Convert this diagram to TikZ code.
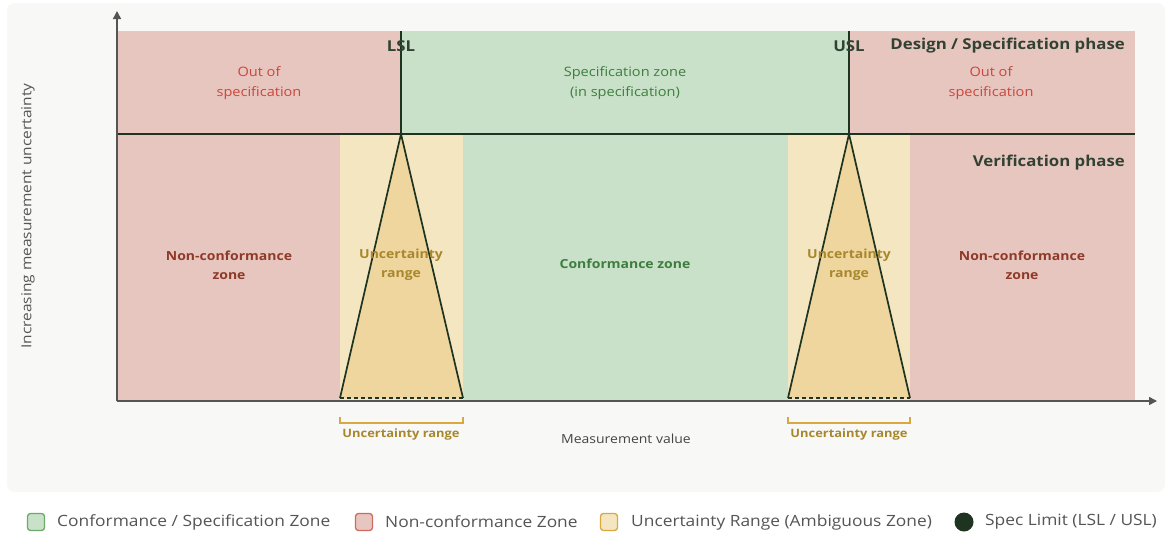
\documentclass[tikz,border=0pt]{standalone}
\usepackage{fontspec}
\setmainfont{Open Sans}[FakeStretch=1.12]
\usetikzlibrary{arrows.meta}
\definecolor{bgpanel}{HTML}{F8F8F7}
\definecolor{redfill}{HTML}{E8C6C0}
\definecolor{greenfill}{HTML}{C8E1C8}
\definecolor{yelfill}{HTML}{F5E6C2}
\definecolor{trifill}{HTML}{EFD69F}
\definecolor{darkline}{HTML}{1E3320}
\definecolor{axisgray}{HTML}{555555}
\definecolor{redtext}{HTML}{C8463C}
\definecolor{darkred}{HTML}{8E3A28}
\definecolor{greentext}{HTML}{3F7D3F}
\definecolor{goldtext}{HTML}{A8872C}
\definecolor{legtext}{HTML}{555555}
\definecolor{legred}{HTML}{D06A60}
\definecolor{leggreen}{HTML}{6BAA6B}
\definecolor{leggold}{HTML}{D9A840}
\tikzset{
  lbl/.style={align=center, font=\fontsize{13}{20}\selectfont, inner sep=0pt},
  blbl/.style={align=center, font=\fontsize{12.5}{19}\selectfont\bfseries, inner sep=0pt},
  phase/.style={font=\fontsize{15}{18}\selectfont\bfseries, text=darkline!80!gray, inner sep=0pt},
  limitline/.style={draw=darkline, line width=2.5pt},
  tri/.style={fill=trifill, draw=darkline, line width=1.7pt, line join=round},
  brk/.style={draw=leggold, line width=1.3pt},
  legbox/.style={minimum width=17pt, minimum height=17pt, rounded corners=3pt, line width=1.3pt, inner sep=0pt},
  legtxt/.style={anchor=west, font=\fontsize{15.5}{17}\selectfont, text=legtext, inner sep=0pt},
  axis/.style={draw=axisgray, line width=1.5pt, -{Triangle[length=8pt,width=8pt]}}
}
\begin{document}
\begin{tikzpicture}[x=1pt,y=-1pt]
\useasboundingbox (0,0) rectangle (1172,536);
\fill[white] (0,0) rectangle (1172,536);
\fill[bgpanel, rounded corners=8pt] (7,3) rectangle (1165,492);
% top band
\fill[redfill] (117,31) rectangle (401,134);
\fill[greenfill] (401,31) rectangle (849,134);
\fill[redfill] (849,31) rectangle (1135,134);
% bottom band
\fill[redfill] (117,134) rectangle (340,401);
\fill[yelfill] (340,134) rectangle (463,401);
\fill[greenfill] (463,134) rectangle (788,401);
\fill[yelfill] (788,134) rectangle (910,401);
\fill[redfill] (910,134) rectangle (1135,401);
% coordinates
\coordinate (lslTop) at (401,31);
\coordinate (lsl) at (401,134);
\coordinate (uslTop) at (849,31);
\coordinate (usl) at (849,134);
\coordinate (l1) at (340,398);
\coordinate (l2) at (463,398);
\coordinate (u1) at (788,398);
\coordinate (u2) at (910,398);
\coordinate (divL) at (117,134);
\coordinate (divR) at (1135,134);
\coordinate (origin) at (117,401);
\coordinate (yEnd) at (117,11);
\coordinate (xEnd) at (1157,401);
% triangles
\fill[trifill] (lsl) -- (l2) -- (l1) -- cycle;
\draw[tri] (l1) -- (lsl) -- (l2);
\draw[darkline, line width=1.6pt, dash pattern=on 4pt off 3pt] (l1) -- (l2);
\fill[trifill] (usl) -- (u2) -- (u1) -- cycle;
\draw[tri] (u1) -- (usl) -- (u2);
\draw[darkline, line width=1.6pt, dash pattern=on 4pt off 3pt] (u1) -- (u2);
% limit lines
\draw[limitline] (divL) -- (divR);
\draw[limitline] (lslTop) -- (lsl);
\draw[limitline] (uslTop) -- (usl);
% axes
\draw[axis] (origin) -- (yEnd);
\draw[axis] (origin) -- (xEnd);
% labels top
\node[phase] (lslLbl) at (401,46) {LSL};
\node[phase] (uslLbl) at (849,46) {USL};
\node[phase, anchor=east] (design) at (1125,46) {Design / Specification phase};
\node[phase, anchor=east] (verif) at (1125,163) {Verification phase};
\node[lbl, text=redtext] (oos1) at (259,83) {Out of\\specification};
\node[lbl, text=redtext] (oos2) at (991,83) {Out of\\specification};
\node[lbl, text=greentext] (spec) at (625,83) {Specification zone\\(in specification)};
% labels bottom
\node[blbl, text=darkred] (nc1) at (229,265) {Non-conformance\\zone};
\node[blbl, text=darkred] (nc2) at (1022,265) {Non-conformance\\zone};
\node[blbl, text=goldtext] (ur1) at (401,265) {Uncertainty\\range};
\node[blbl, text=goldtext] (ur2) at (849,265) {Uncertainty\\range};
\node[blbl, text=greentext] (conf) at (625,264) {Conformance zone};
% brackets
\draw[brk] (340,417) -- (340,423) -- (463,423) -- (463,417);
\draw[brk] (788,417) -- (788,423) -- (910,423) -- (910,417);
\node[blbl, text=goldtext, font=\fontsize{11.5}{13}\selectfont\bfseries] (bk1) at (401,435) {Uncertainty range};
\node[blbl, text=goldtext, font=\fontsize{11.5}{13}\selectfont\bfseries] (bk2) at (849,435) {Uncertainty range};
\node[lbl, text=axisgray!80!black, font=\fontsize{12.5}{13}\selectfont] (xlab) at (626,439) {Measurement value};
\node[lbl, text=axisgray, font=\fontsize{13.8}{14}\selectfont, rotate=90] (ylab) at (28,216) {Increasing measurement uncertainty};
% legend
\node[legbox, fill=greenfill, draw=leggreen] (lg1) at (36,522) {};
\node[legtxt] (lt1) at (57,522) {Conformance / Specification Zone};
\node[legbox, fill=redfill, draw=legred] (lg2) at (364,522) {};
\node[legtxt] (lt2) at (385,522) {Non-conformance Zone};
\node[legbox, fill=yelfill, draw=leggold] (lg3) at (609,522) {};
\node[legtxt] (lt3) at (631,522) {Uncertainty Range (Ambiguous Zone)};
\node[circle, fill=darkline, minimum size=19pt, inner sep=0pt] (lg4) at (964,522) {};
\node[legtxt] (lt4) at (985,522) {Spec Limit (LSL / USL)};
\end{tikzpicture}
\end{document}
